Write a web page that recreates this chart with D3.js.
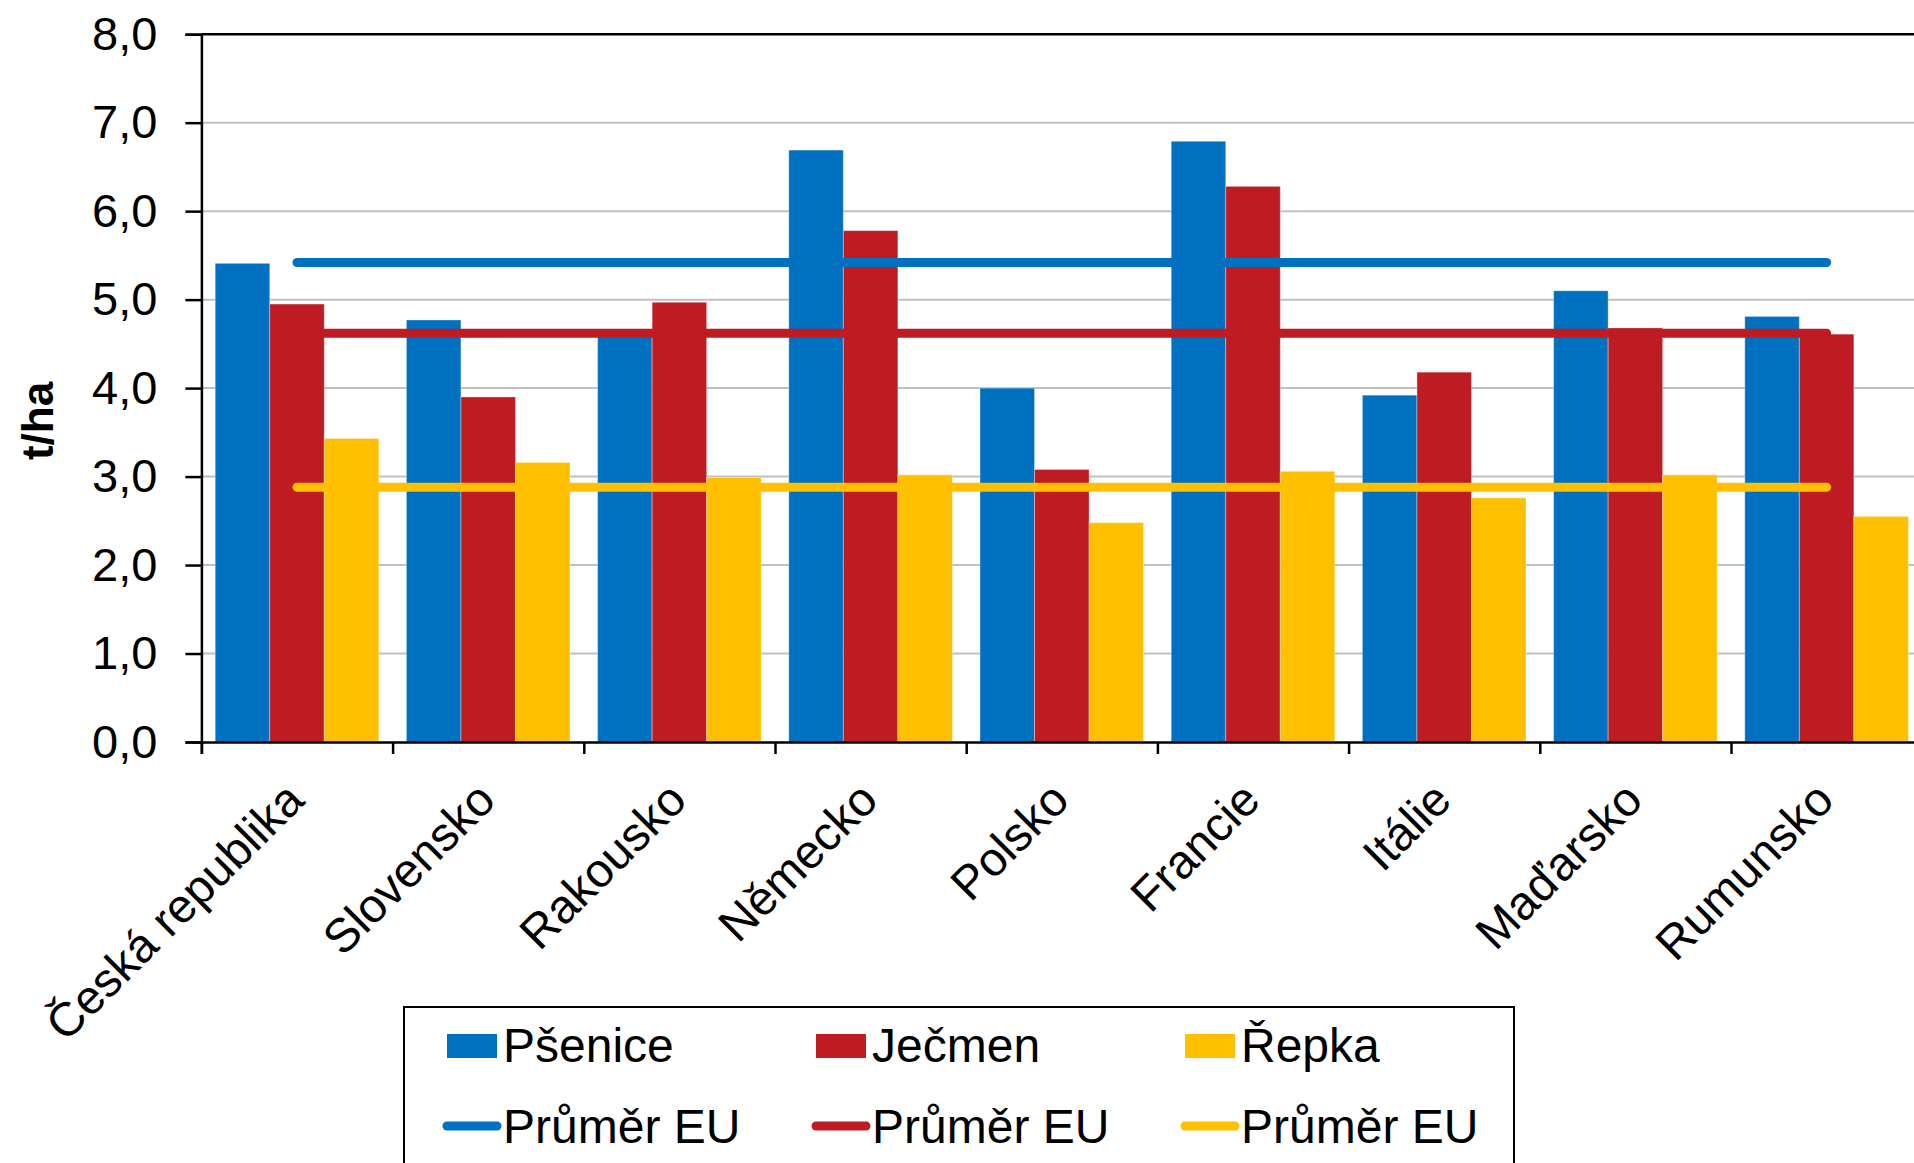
<!DOCTYPE html>
<html>
<head>
<meta charset="utf-8">
<script src="https://cdn.jsdelivr.net/npm/d3@7"></script>
<style>
  html, body { margin: 0; padding: 0; background: #fff; }
  svg { display: block; font-family: "Liberation Sans", Arial, sans-serif; }
</style>
</head>
<body>
<svg id="chart"></svg>
<script>
// data (t/ha)
const countries = ["Česká republika", "Slovensko", "Rakousko", "Německo", "Polsko", "Francie", "Itálie", "Maďarsko", "Rumunsko"];
const series = ["Pšenice", "Ječmen", "Řepka"];
const psenice = [5.41, 4.77, 4.62, 6.69, 4.00, 6.79, 3.92, 5.10, 4.81];
const jecmen  = [4.95, 3.90, 4.97, 5.78, 3.08, 6.28, 4.18, 4.68, 4.61];
const repka   = [3.43, 3.16, 2.99, 3.02, 2.48, 3.06, 2.76, 3.02, 2.55];
const euAvg   = [5.42, 4.62, 2.88];
const yTicks  = [0, 1, 2, 3, 4, 5, 6, 7, 8];
const colors  = ["#0070C0", "#BE1B23", "#FFC000"];

const W = 1914, H = 1163;
const plotLeft = 201.4, plotTop = 34.2, plotBottom = 742;
const plotRight = plotLeft + 9 * 191.2; // runs past the picture edge like the original

const svg = d3.select("#chart").attr("width", W).attr("height", H);

const x0 = d3.scaleBand().domain(countries).range([plotLeft, plotRight]);
const x1 = d3.scaleBand().domain(series).range([13.8, x0.bandwidth() - 13.8]);
const y = d3.scaleLinear().domain([0, 8]).range([plotBottom, plotTop]);
const xIdx = d3.scaleLinear().domain([0, countries.length]).range([plotLeft, plotRight]);

// gridlines
svg.append("g")
  .selectAll("line")
  .data(yTicks.slice(1, -1))
  .join("line")
  .attr("x1", plotLeft).attr("x2", plotRight)
  .attr("y1", d => y(d)).attr("y2", d => y(d))
  .attr("stroke", "#c0c0c0").attr("stroke-width", 2);

// top border
svg.append("line")
  .attr("x1", plotLeft).attr("x2", plotRight)
  .attr("y1", y(8)).attr("y2", y(8))
  .attr("stroke", "#000").attr("stroke-width", 2.5);

// bars
const rows = countries.map((c, i) => ({ c, vals: [psenice[i], jecmen[i], repka[i]] }));
svg.append("g")
  .selectAll("g")
  .data(rows)
  .join("g")
  .attr("transform", d => `translate(${x0(d.c)},0)`)
  .selectAll("rect")
  .data(d => d.vals.map((v, k) => ({ s: series[k], v, k })))
  .join("rect")
  .attr("x", d => x1(d.s))
  .attr("width", x1.bandwidth())
  .attr("y", d => y(d.v))
  .attr("height", d => y(0) - y(d.v))
  .attr("fill", d => colors[d.k])
  .attr("stroke", "rgba(255,255,255,0.35)")
  .attr("stroke-width", 1);

// EU average lines
const xFirst = x0(countries[0]) + x0.bandwidth() / 2;
const xLast = x0(countries[countries.length - 1]) + x0.bandwidth() / 2;
svg.append("g")
  .selectAll("line")
  .data(euAvg)
  .join("line")
  .attr("x1", xFirst).attr("x2", xLast)
  .attr("y1", d => y(d)).attr("y2", d => y(d))
  .attr("stroke", (d, i) => colors[i])
  .attr("stroke-width", 9)
  .attr("stroke-linecap", "round");

// y axis
const yAxis = svg.append("g")
  .attr("transform", `translate(${plotLeft},0)`)
  .call(d3.axisLeft(y).tickValues(yTicks).tickSize(16).tickPadding(28)
    .tickFormat(d => d.toFixed(1).replace(".", ",")));
yAxis.select(".domain").attr("stroke", "#000").attr("stroke-width", 2.5);
yAxis.selectAll(".tick line").attr("stroke", "#000").attr("stroke-width", 2.5);
yAxis.selectAll("text").attr("font-size", 47).attr("fill", "#000")
  .attr("font-family", "'Liberation Sans', Arial, sans-serif");

// x axis (category boundary ticks)
const xAxis = svg.append("g")
  .attr("transform", `translate(0,${plotBottom})`)
  .call(d3.axisBottom(xIdx).tickValues(d3.range(0, countries.length + 1)).tickSize(12).tickFormat(""));
xAxis.select(".domain").attr("stroke", "#000").attr("stroke-width", 2.5);
xAxis.selectAll(".tick line").attr("stroke", "#000").attr("stroke-width", 2.5);

// category labels
svg.append("g")
  .selectAll("text")
  .data(countries)
  .join("text")
  .attr("transform", d => `translate(${x0(d) + x0.bandwidth() / 2 - 14},${plotBottom + 37}) rotate(-45)`)
  .attr("text-anchor", "end")
  .attr("dy", "0.7em")
  .attr("font-size", 47.5)
  .text(d => d);

// y title
svg.append("text")
  .attr("transform", `translate(38,421) rotate(-90)`)
  .attr("text-anchor", "middle")
  .attr("dy", "0.35em")
  .attr("font-size", 44)
  .attr("font-weight", "bold")
  .text("t/ha");

// legend
const lg = svg.append("g");
lg.append("rect")
  .attr("x", 404).attr("y", 1007).attr("width", 1110).attr("height", 220)
  .attr("fill", "#fff").attr("stroke", "#000").attr("stroke-width", 2);

const colX = [447, 816, 1185];
series.forEach((s, i) => {
  lg.append("rect")
    .attr("x", colX[i]).attr("y", 1034).attr("width", 50).attr("height", 24)
    .attr("fill", colors[i]);
  lg.append("text")
    .attr("x", colX[i] + 56).attr("y", 1062)
    .attr("font-size", 48)
    .text(s);
  lg.append("line")
    .attr("x1", colX[i]).attr("x2", colX[i] + 50)
    .attr("y1", 1126).attr("y2", 1126)
    .attr("stroke", colors[i]).attr("stroke-width", 9)
    .attr("stroke-linecap", "round");
  lg.append("text")
    .attr("x", colX[i] + 56).attr("y", 1143)
    .attr("font-size", 48)
    .text("Průměr EU");
});
</script>
</body>
</html>
